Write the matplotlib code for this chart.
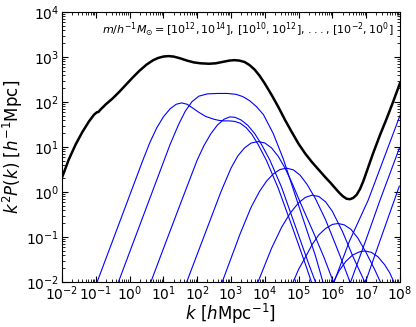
import matplotlib
matplotlib.use("Agg")
import matplotlib.pyplot as plt
import numpy as np
from matplotlib.ticker import LogLocator, NullFormatter

# curves, stored as log10(k) and log10(k^2 P)
total_logk = [-2.0, -1.8, -1.6, -1.4, -1.2, -1.05, -0.97, -0.92, -0.85, -0.7, -0.5, -0.3, -0.1,
              0.1, 0.3, 0.5, 0.7, 0.85, 1.0, 1.15, 1.3, 1.5, 1.7, 1.9, 2.1, 2.35, 2.55, 2.75,
              2.95, 3.1, 3.25, 3.4, 3.55, 3.7, 3.85, 4.0, 4.2, 4.4, 4.6, 4.8, 5.0, 5.2, 5.4,
              5.6, 5.8, 5.95, 6.1, 6.22, 6.32, 6.42, 6.52, 6.62, 6.72, 6.82, 6.92, 7.05, 7.2,
              7.4, 7.6, 7.8, 8.0]
total_logp = [0.32, 0.72, 1.05, 1.33, 1.57, 1.72, 1.77, 1.78, 1.84, 1.95, 2.08, 2.23, 2.39,
              2.55, 2.70, 2.83, 2.93, 2.98, 3.01, 3.02, 3.01, 2.97, 2.92, 2.88, 2.86, 2.85, 2.86, 2.89,
              2.92, 2.93, 2.92, 2.89, 2.82, 2.72, 2.58, 2.41, 2.16, 1.89, 1.60, 1.33, 1.07, 0.85, 0.66,
              0.49, 0.32, 0.20, 0.07, -0.03, -0.10, -0.15, -0.16, -0.13, -0.06, 0.07, 0.25, 0.53, 0.85,
              1.25, 1.62, 2.01, 2.42]

# mass bins [1e12,1e14] ... [1e-2,1e0]
bin1_logk = [-0.96, -0.5, 0.0, 0.39, 0.6, 0.8, 1.0, 1.2, 1.38, 1.54, 1.7, 1.88, 2.05, 2.25,
             2.48, 2.65, 2.8, 2.95, 3.1, 3.27, 3.45, 3.62, 3.8, 4.05, 4.4, 4.8, 5.2, 5.38]
bin1_logp = [-2.0, -1.08, -0.08, 0.70, 1.10, 1.42, 1.67, 1.85, 1.95, 1.98, 1.95, 1.86, 1.77, 1.68,
             1.62, 1.59, 1.58, 1.58, 1.57, 1.53, 1.43, 1.28, 1.06, 0.70, 0.08, -0.75, -1.6, -2.0]

bin2_logk = [-0.33, 0.0, 0.5, 0.9, 1.2, 1.45, 1.65, 1.85, 2.05, 2.3, 2.6, 2.9, 3.15, 3.35,
             3.55, 3.75, 3.96, 4.25, 4.55, 4.94, 5.24, 5.5, 5.72]
bin2_logp = [-2.0, -1.34, -0.34, 0.46, 1.06, 1.50, 1.80, 2.01, 2.13, 2.18, 2.19, 2.19, 2.17, 2.12,
             2.03, 1.90, 1.72, 1.30, 0.73, -0.16, -0.84, -1.42, -2.0]

bin3_logk = [0.63, 1.0, 1.5, 2.0, 2.2, 2.4, 2.6, 2.8, 2.97, 3.12, 3.3, 3.5, 3.7, 3.9, 4.15,
             4.5, 4.9, 5.3, 5.5]
bin3_logp = [-2.0, -1.26, -0.27, 0.71, 1.03, 1.29, 1.49, 1.62, 1.67, 1.66, 1.60, 1.48, 1.30, 1.06,
             0.71, 0.10, -0.75, -1.6, -2.0]

bin4_logk = [1.69, 2.2, 2.7, 3.0, 3.2, 3.4, 3.6, 3.81, 4.0, 4.2, 4.4, 4.6, 4.8, 5.1, 5.44,
             5.75, 6.04, 6.5, 7.06, 7.5, 8.0]
bin4_logp = [-2.0, -0.99, 0.0, 0.53, 0.80, 0.98, 1.09, 1.12, 1.09, 0.98, 0.79, 0.53, 0.21, -0.32,
             -0.90, -1.45, -2.02, -1.10, -0.18, 0.70, 1.70]

bin5_logk = [2.74, 3.27, 3.6, 3.85, 4.05, 4.25, 4.45, 4.65, 4.85, 5.05, 5.25, 5.5, 5.8, 6.1,
             6.35, 6.53, 7.0, 7.41, 7.98]
bin5_logp = [-2.0, -0.93, -0.33, 0.02, 0.24, 0.40, 0.50, 0.53, 0.49, 0.37, 0.17, -0.15, -0.62,
             -1.18, -1.66, -2.02, -1.05, -0.18, 0.97]

bin6_logk = [3.8, 4.2, 4.5, 4.75, 5.0, 5.2, 5.4, 5.6, 5.8, 6.0, 6.3, 6.6, 6.97, 7.4, 7.98]
bin6_logp = [-2.0, -1.25, -0.78, -0.47, -0.24, -0.12, -0.07, -0.10, -0.22, -0.43, -0.88, -1.42,
             -2.02, -1.1, 0.13]

bin7_logk = [4.84, 5.0, 5.2, 5.4, 5.6, 5.8, 6.0, 6.17, 6.35, 6.55, 6.75, 7.0, 7.25, 7.42]
bin7_logp = [-2.0, -1.72, -1.45, -1.17, -0.95, -0.81, -0.72, -0.70, -0.73, -0.83, -1.02, -1.35,
             -1.72, -2.0]

bin8_logk = [6.03, 6.2, 6.4, 6.6, 6.8, 6.96, 7.15, 7.35, 7.55, 7.7, 7.82]
bin8_logp = [-2.0, -1.75, -1.54, -1.40, -1.33, -1.31, -1.34, -1.44, -1.62, -1.80, -2.0]

bins = [(bin1_logk, bin1_logp), (bin2_logk, bin2_logp), (bin3_logk, bin3_logp),
        (bin4_logk, bin4_logp), (bin5_logk, bin5_logp), (bin6_logk, bin6_logp),
        (bin7_logk, bin7_logp), (bin8_logk, bin8_logp)]

fig = plt.figure(figsize=(4.16, 3.27), dpi=100)
ax = fig.add_axes([0.149, 0.1376, 0.8125, 0.8257])

for lk, lp in bins:
    ax.plot(10**np.array(lk), 10**np.array(lp), color='#0000ff', linewidth=0.8)
ax.plot(10**np.array(total_logk), 10**np.array(total_logp), color='black', linewidth=1.8)

ax.set_xscale('log')
ax.set_yscale('log')
ax.set_xlim(1e-2, 1e8)
ax.set_ylim(1e-2, 1e4)

ax.xaxis.set_major_locator(LogLocator(base=10, numticks=20))
ax.xaxis.set_minor_locator(LogLocator(base=10, subs=np.arange(2, 10), numticks=20))
ax.xaxis.set_minor_formatter(NullFormatter())
ax.yaxis.set_major_locator(LogLocator(base=10, numticks=20))
ax.yaxis.set_minor_locator(LogLocator(base=10, subs=np.arange(2, 10), numticks=20))
ax.yaxis.set_minor_formatter(NullFormatter())
ax.tick_params(which='both', direction='in', top=True, right=True, labelsize=10, pad=2)
ax.tick_params(which='major', length=4)
ax.tick_params(which='minor', length=2)

ax.set_xlabel(r'$k\ [h\mathrm{Mpc}^{-1}]$', fontsize=12, labelpad=-1)
ax.set_ylabel(r'$k^2P(k)\ [h^{-1}\mathrm{Mpc}]$', fontsize=12, labelpad=1)

ax.text(0.98, 0.935, r'$m/h^{-1}M_{\odot}=[10^{12},10^{14}],\,[10^{10},10^{12}],\,...,\,[10^{-2},10^{0}]$',
        transform=ax.transAxes, ha='right', va='center', fontsize=8)

plt.savefig('out.png', dpi=100)
